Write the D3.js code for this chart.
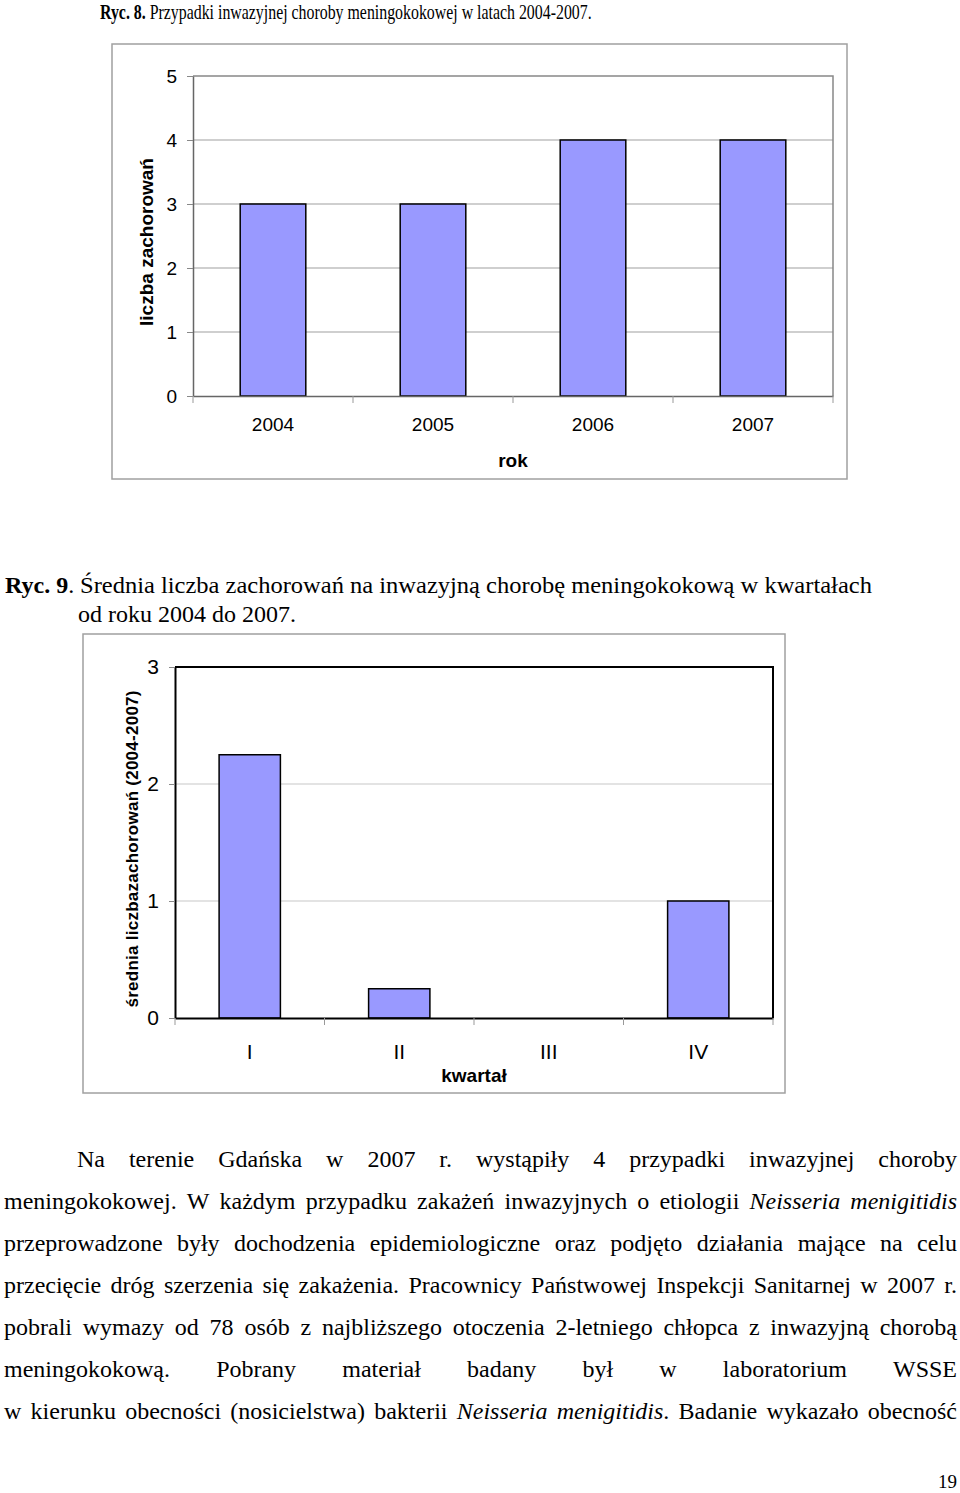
<!DOCTYPE html>
<html lang="pl">
<head>
<meta charset="utf-8"/>
<title>Ryc. 8 i 9 – choroba meningokokowa</title>
<script src="https://cdn.jsdelivr.net/npm/d3@7/dist/d3.min.js"></script>
<style>
  html,body { margin:0; padding:0; background:#fff; }
  svg { display:block; }
  .serif { font-family:"Liberation Serif","Times New Roman",serif; fill:#000; }
  .sans  { font-family:"Liberation Sans",Arial,sans-serif; fill:#000; }
</style>
</head>
<body>
<svg id="page" width="960" height="1493"></svg>
<script>
// Ryc. 8 – przypadki w latach
const years        = ["2004","2005","2006","2007"];
const casesPerYear = [3, 3, 4, 4];
const yearTicks    = [0, 1, 2, 3, 4, 5];

// Ryc. 9 – srednia w kwartalach
const quarters       = ["I","II","III","IV"];
const meanPerQuarter = [2.25, 0.25, 0, 1];
const quarterTicks   = [0, 1, 2, 3];

// tekst strony
const title8 = ["Ryc. 8.", " Przypadki inwazyjnej choroby meningokokowej w latach 2004-2007."];
const title9 = ["Ryc. 9", ". ", "Średnia liczba zachorowań na inwazyjną chorobę meningokokową w kwartałach", "od roku 2004 do 2007."];
const paragraph = [
  "Na terenie Gdańska w 2007 r. wystąpiły 4 przypadki inwazyjnej choroby",
  "meningokokowej. W każdym przypadku zakażeń inwazyjnych o etiologii *Neisseria* *menigitidis*",
  "przeprowadzone były dochodzenia epidemiologiczne oraz podjęto działania mające na celu",
  "przecięcie dróg szerzenia się zakażenia. Pracownicy Państwowej Inspekcji Sanitarnej w 2007 r.",
  "pobrali wymazy od 78 osób z najbliższego otoczenia 2-letniego chłopca z inwazyjną chorobą",
  "meningokokową. Pobrany materiał badany był w laboratorium WSSE",
  "w kierunku obecności (nosicielstwa) bakterii *Neisseria* *menigitidis*. Badanie wykazało obecność"
];
const pageNo = "19";

const svg = d3.select("#page");

// dopasuj szerokosc tekstu przez skalowanie w poziomie
function fitWidth(sel, x, y, target){
  const len = sel.node().getComputedTextLength();
  sel.attr("transform", `translate(${x},${y}) scale(${target/len},1)`);
}

// --- naglowki ---
const t8 = svg.append("text").attr("class","serif").style("font-size","22px");
t8.append("tspan").attr("font-weight","bold").text(title8[0]);
t8.append("tspan").text(title8[1]);
fitWidth(t8, 100, 19, 492);

const t9 = svg.append("text").attr("class","serif").style("font-size","24px")
  .attr("x",5).attr("y",593);
t9.append("tspan").attr("font-weight","bold").text(title9[0]);
t9.append("tspan").text(title9[1]);
const t9b = svg.append("text").attr("class","serif").style("font-size","24px").text(title9[2]);
fitWidth(t9b, 80, 593, 792);
svg.append("text").attr("class","serif").style("font-size","24px")
  .attr("x",78).attr("y",622).text(title9[3]);

// --- wykres slupkowy ---
function barChart(o){
  const g = svg.append("g");
  const [x0,y0,x1,y1] = o.plot;

  g.append("rect")
    .attr("x",o.frame[0]).attr("y",o.frame[1])
    .attr("width",o.frame[2]).attr("height",o.frame[3])
    .attr("fill","#fff").attr("stroke","#a0a0a0").attr("stroke-width",1.5);

  const x = d3.scaleBand().domain(o.cats).range([x0,x1]).padding(0);
  const y = d3.scaleLinear().domain([0,o.yMax]).range([y1,y0]);

  // linie siatki
  g.selectAll("line.grid")
    .data(o.ticks.filter(t => t>0 && t<o.yMax))
    .join("line").attr("class","grid")
      .attr("x1",x0).attr("x2",x1)
      .attr("y1",d=>y(d)).attr("y2",d=>y(d))
      .attr("stroke",o.gridColor).attr("stroke-width",1.2);

  // gorna i prawa krawedz obszaru
  g.append("path")
    .attr("d",`M${x0},${y(o.yMax)}H${x1}V${y1}`)
    .attr("fill","none").attr("stroke",o.borderColor).attr("stroke-width",o.borderWidth);

  // slupki
  const bw = x.bandwidth()*o.barFrac;
  g.selectAll("rect.bar")
    .data(o.cats.map((c,i)=>({c, v:o.vals[i]})).filter(d=>d.v>0))
    .join("rect").attr("class","bar")
      .attr("x",d=>x(d.c)+(x.bandwidth()-bw)/2)
      .attr("y",d=>y(d.v))
      .attr("width",bw)
      .attr("height",d=>y(0)-y(d.v))
      .attr("fill","#9999ff").attr("stroke","#000").attr("stroke-width",1.5);

  // os Y
  const ay = g.append("g").attr("transform",`translate(${x0},0)`)
    .call(d3.axisLeft(y).tickValues(o.ticks).tickFormat(d3.format("d"))
      .tickSize(6).tickSizeOuter(0).tickPadding(10));
  ay.select(".domain").attr("stroke",o.axisColor).attr("stroke-width",o.axisWidth);
  ay.selectAll(".tick line").attr("stroke","#888");
  ay.selectAll(".tick text").attr("class","sans").attr("font-family",null)
    .style("font-size",o.tickSize+"px");

  // os X
  const ax = g.append("g").attr("transform",`translate(0,${y1})`)
    .call(d3.axisBottom(x).tickSize(0).tickSizeOuter(0).tickPadding(o.xPad));
  ax.select(".domain").attr("stroke",o.axisColor).attr("stroke-width",o.axisWidth);
  ax.selectAll(".tick text").attr("class","sans").attr("font-family",null)
    .style("font-size",o.tickSize+"px");
  ax.selectAll("line.edge")
    .data([...o.cats.map(c=>x(c)), x1])
    .join("line").attr("class","edge")
      .attr("x1",d=>d).attr("x2",d=>d).attr("y1",0).attr("y2",7)
      .attr("stroke","#999");

  // tytuly osi
  g.append("text").attr("class","sans").attr("font-weight","bold")
    .style("font-size","19px").attr("text-anchor","middle")
    .attr("x",(x0+x1)/2).attr("y",o.xTitleY).text(o.xTitle);

  const yt = g.append("text").attr("class","sans").attr("font-weight","bold")
    .style("font-size",o.yTitleSize+"px").attr("text-anchor","middle")
    .attr("transform",`translate(${o.yTitlePos[0]},${o.yTitlePos[1]}) rotate(-90)`)
    .text(o.yTitle);
  if(o.yTitleLen) yt.attr("textLength",o.yTitleLen).attr("lengthAdjust","spacing");
}

barChart({
  frame:[112,44,735,435], plot:[193,76,833,396],
  cats:years, vals:casesPerYear, ticks:yearTicks, yMax:5,
  barFrac:0.41, xPad:22, tickSize:19,
  gridColor:"#a0a0a0", borderColor:"#888", borderWidth:1.5,
  axisColor:"#666", axisWidth:1.5,
  xTitle:"rok", xTitleY:467,
  yTitle:"liczba zachorowań", yTitlePos:[153,242], yTitleSize:19
});

barChart({
  frame:[83,634,702,459], plot:[175,667,773,1018],
  cats:quarters, vals:meanPerQuarter, ticks:quarterTicks, yMax:3,
  barFrac:0.41, xPad:26, tickSize:21,
  gridColor:"#c8c8c8", borderColor:"#000", borderWidth:2,
  axisColor:"#000", axisWidth:2,
  xTitle:"kwartał", xTitleY:1082,
  yTitle:"średnia liczbazachorowań (2004-2007)", yTitlePos:[138,849], yTitleSize:17, yTitleLen:317
});

// --- akapit wyjustowany ---
const lineTop = 1167, lineStep = 42, left = 4, right = 957, indent = 77;
paragraph.forEach((line,i)=>{
  const y = lineTop + i*lineStep;
  const startX = i===0 ? indent : left;
  const words = line.split(" ").map(w=>{
    const t = svg.append("text").attr("class","serif").style("font-size","24px").attr("y",y);
    const m = w.match(/^\*(.+)\*(.*)$/);
    if(m){
      t.append("tspan").attr("font-style","italic").text(m[1]);
      if(m[2]) t.append("tspan").text(m[2]);
    } else t.text(w);
    return t;
  });
  const widths = words.map(t=>t.node().getComputedTextLength());
  const gap = (right - startX - d3.sum(widths)) / (words.length-1);
  let cx = startX;
  words.forEach((t,j)=>{ t.attr("x",cx); cx += widths[j] + gap; });
});

svg.append("text").attr("class","serif").style("font-size","19px")
  .attr("text-anchor","end").attr("x",957).attr("y",1488).text(pageNo);
</script>
</body>
</html>
